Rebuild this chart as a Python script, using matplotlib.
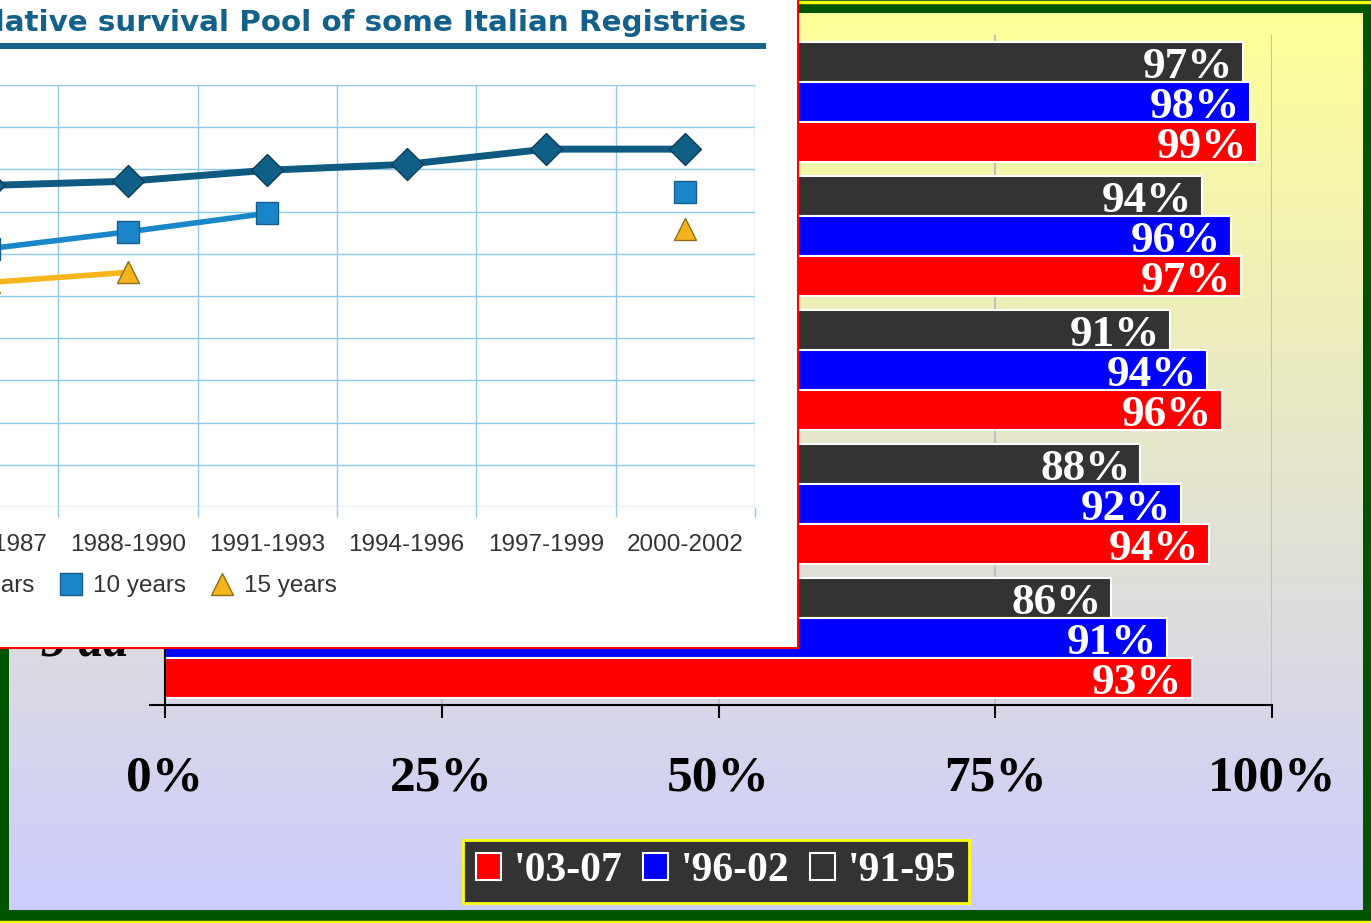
import numpy as np
import matplotlib.pyplot as plt
from matplotlib.patches import Patch, Rectangle
from matplotlib.lines import Line2D

W, H = 1371, 923

# main bar chart: relative survival by years from diagnosis and period
groups = ["1 aa", "2 aa", "3 aa", "4 aa", "5 aa"]
periods = ["'03-07", "'96-02", "'91-95"]
surv_0307 = [98.6, 97.2, 95.5, 94.3, 92.8]
surv_9602 = [98.0, 96.3, 94.1, 91.8, 90.5]
surv_9195 = [97.4, 93.7, 90.8, 88.1, 85.5]
lab_0307 = [99, 97, 96, 94, 93]
lab_9602 = [98, 96, 94, 92, 91]
lab_9195 = [97, 94, 91, 88, 86]
xticks = [0, 25, 50, 75, 100]

# pasted inset: relative survival, pool of some Italian registries
inset_periods = ["1985-1987", "1988-1990", "1991-1993",
                 "1994-1996", "1997-1999", "2000-2002"]
inset_series = ["5 years", "10 years", "15 years"]
rs_5y = [88.1, 88.6, 89.9, 90.6, 92.4, 92.4]
rs_10y = [80.6, 82.6, 84.8, np.nan, np.nan, 87.3]
rs_15y = [76.6, 77.8, np.nan, np.nan, np.nan, 82.9]


def px(x0, y0, x1, y1):
    # pixel box (top-left origin) -> figure fraction rect
    return [x0 / W, 1 - y1 / H, (x1 - x0) / W, (y1 - y0) / H]


fig = plt.figure(figsize=(W / 100, H / 100), dpi=100, facecolor="#005500")
fig.add_artist(Rectangle((0, 1 - 3 / H), 1, 2 / H, transform=fig.transFigure,
                         color="#ffff00", zorder=0))
fig.add_artist(Rectangle((0, 0), 1, 2 / H, transform=fig.transFigure,
                         color="#ffff00", zorder=0))

# gradient background
bg = fig.add_axes(px(9, 13, 1363, 910), zorder=0)
t = np.linspace(0, 1, 256)[:, None, None]
top = np.array([1.0, 1.0, 0.6])
bottom = np.array([0.8, 0.8, 1.0])
bg.imshow(top * (1 - t) + bottom * t, aspect="auto", extent=[0, 1, 1, 0])
bg.axis("off")

# bars
ax = fig.add_axes(px(165, 35, 1272, 705), zorder=1)
ax.patch.set_alpha(0)
y = np.arange(len(groups))
h = 0.3
serif = "Liberation Serif"
for vals, labs, off, col in [(surv_9195, lab_9195, -h, "#333333"),
                             (surv_9602, lab_9602, 0, "#0000ff"),
                             (surv_0307, lab_0307, h, "#ff0000")]:
    ax.barh(y + off, vals, height=h, color=col, edgecolor="white", linewidth=1.5)
    for yi, v, l in zip(y, vals, labs):
        ax.annotate(f"{l}%", (v, yi + off), xytext=(-7, -11.5),
                    textcoords="offset points", ha="right", va="baseline",
                    color="white", fontsize=32.5, fontweight="bold", family=serif)

ax.set_xlim(0, 100)
ax.set_ylim(4.5, -0.5)
ax.set_xticks(xticks, [f"{v}%" for v in xticks])
ax.set_yticks(y, groups)
ax.set_yticks(np.arange(-0.5, 5, 1), minor=True)
ax.tick_params(axis="x", length=9.5, width=1.5, pad=27, labelsize=37)
ax.tick_params(axis="y", which="major", length=0, pad=26, labelsize=36)
ax.tick_params(axis="y", which="minor", length=11.5, width=1.5)
for lab in ax.get_xticklabels():
    lab.set_family(serif)
    lab.set_weight("bold")
for lab in ax.get_yticklabels():
    lab.set_family(serif)
    lab.set_weight("bold")
    lab.set_style("italic")
ax.grid(axis="x", color="#c0c0c0", lw=1.5)
ax.set_axisbelow(True)
for s in ["top", "right"]:
    ax.spines[s].set_visible(False)
for s in ["left", "bottom"]:
    ax.spines[s].set_linewidth(1.5)

handles = [Patch(facecolor="#ff0000", edgecolor="white", lw=1.5),
           Patch(facecolor="#0000ff", edgecolor="white", lw=1.5),
           Patch(facecolor="#333333", edgecolor="white", lw=1.5)]
leg = fig.legend(handles, periods, ncol=3, loc="center",
                 bbox_to_anchor=(716 / W, 1 - 871 / H), frameon=True,
                 fancybox=False, facecolor="#333333", edgecolor="#ffff00",
                 framealpha=1, prop=dict(family=serif, weight="bold", size=30),
                 labelcolor="white", handlelength=0.6, handleheight=0.6,
                 handletextpad=0.3, columnspacing=0.5, borderpad=0.3,
                 borderaxespad=0)
leg.get_frame().set_linewidth(2)

# inset picture
ib = fig.add_axes(px(-5, -5, 798, 648), zorder=5)
ib.set_facecolor("white")
ib.set_xticks([])
ib.set_yticks([])
for s in ib.spines.values():
    s.set_color("#ff0000")
    s.set_linewidth(1.5)

gc = "#8fcbe8"
il = fig.add_axes(px(-81, 85, 755, 507), zorder=6)
il.set_facecolor("none")
xi = np.arange(len(inset_periods))
il.plot(xi, rs_5y, color="#0e5a80", lw=5, marker="D", ms=16,
        mfc="#0f5f87", mec="#0a3d5a", mew=1)
il.plot(xi, rs_10y, color="#1b87cb", lw=4, marker="s", ms=16.5,
        mfc="#1a86c9", mec="#155e8c", mew=1)
il.plot(xi, rs_15y, color="#f6b51b", lw=4, marker="^", ms=16.5,
        mfc="#f6b41c", mec="#8f6d16", mew=1)
il.set_xlim(-0.5, 5.5)
il.set_ylim(50, 100)
il.set_xticks(xi, inset_periods)
il.set_xticks(np.arange(-0.5, 6, 1), minor=True)
il.set_yticks(np.arange(50, 101, 5))
il.tick_params(left=False, labelleft=False)
il.tick_params(axis="x", which="major", length=0, pad=19.5, labelsize=17.5,
               labelcolor="#333333")
il.tick_params(axis="x", which="minor", length=7, color=gc, width=1)
for lab in il.get_xticklabels():
    lab.set_family("Liberation Sans")
il.grid(which="minor", axis="x", color=gc, lw=1)
il.grid(which="major", axis="y", color=gc, lw=1)
il.set_axisbelow(True)
for s in il.spines.values():
    s.set_visible(False)

ih = [Line2D([], [], ls="none", marker="D", ms=15, mfc="#0f5f87", mec="#0a3d5a"),
      Line2D([], [], ls="none", marker="s", ms=16.5, mfc="#1a86c9", mec="#155e8c"),
      Line2D([], [], ls="none", marker="^", ms=16.5, mfc="#f6b41c", mec="#8f6d16")]
il.legend(ih, inset_series, ncol=3, loc="center right",
          bbox_to_anchor=(337 / W, 1 - 586 / H), bbox_transform=fig.transFigure,
          frameon=False, borderpad=0, borderaxespad=0, handlelength=1.2,
          handletextpad=0.3, columnspacing=0.9,
          prop=dict(family="Liberation Sans", size=17.5), labelcolor="#333333")

fig.text(746 / W, 1 - 31 / H, "Relative survival Pool of some Italian Registries",
         ha="right", va="baseline", fontsize=21.2, fontweight="bold",
         color="#13618a", family="DejaVu Sans", zorder=7)
fig.add_artist(Line2D([0, 763 / W], [1 - 46 / H] * 2, color="#16628b",
                      lw=4.3, zorder=7))

fig.savefig("out.png", dpi=100, facecolor=fig.get_facecolor())
